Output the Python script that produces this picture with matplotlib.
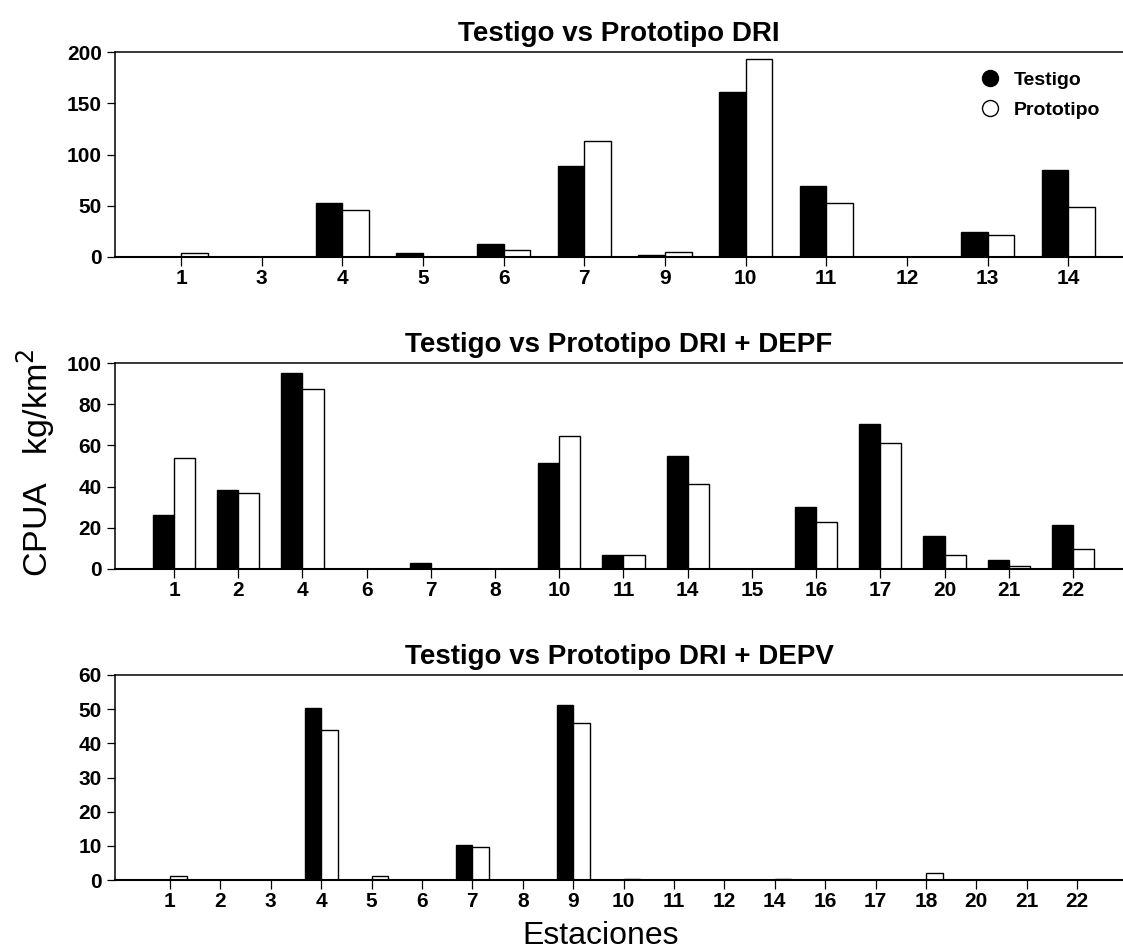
import numpy as np
import matplotlib
matplotlib.use("Agg")
import matplotlib.pyplot as plt
from matplotlib.lines import Line2D

plt.rcParams['font.family'] = ['Liberation Sans', 'DejaVu Sans']

# Panel 1: Testigo vs Prototipo DRI
est_dri = ["1", "3", "4", "5", "6", "7", "9", "10", "11", "12", "13", "14"]
testigo_dri = [0, 0, 53, 4.2, 12.4, 88.5, 1.6, 161, 69, 0, 24, 84.5]
prototipo_dri = [4.2, 0, 46, 0, 6.5, 113.5, 5.2, 193, 52.7, 0, 21, 48.8]

# Panel 2: Testigo vs Prototipo DRI + DEPF
est_depf = ["1", "2", "4", "6", "7", "8", "10", "11", "14", "15", "16", "17",
            "20", "21", "22"]
testigo_depf = [26, 38.3, 95, 0, 2.9, 0, 51.6, 6.7, 54.9, 0, 29.9, 70.5,
                15.9, 4.2, 21.3]
prototipo_depf = [54, 37, 87.5, 0, 0, 0, 64.4, 6.7, 41.4, 0, 22.6, 61.2,
                  6.7, 1.3, 9.9]

# Panel 3: Testigo vs Prototipo DRI + DEPV
est_depv = ["1", "2", "3", "4", "5", "6", "7", "8", "9", "10", "11", "12",
            "14", "16", "17", "18", "20", "21", "22"]
testigo_depv = [0, 0, 0, 50.3, 0, 0, 10.3, 0, 51.1, 0, 0, 0,
                0, 0, 0, 0, 0, 0, 0]
prototipo_depv = [1.1, 0, 0, 43.9, 1.1, 0, 9.8, 0, 46.0, 0.3, 0, 0,
                  0.3, 0, 0, 2.0, 0, 0, 0]

panels = [
    ("Testigo vs Prototipo DRI", est_dri, testigo_dri, prototipo_dri,
     200, [0, 50, 100, 150, 200], (-0.82, 11.68)),
    ("Testigo vs Prototipo DRI + DEPF", est_depf, testigo_depf, prototipo_depf,
     100, [0, 20, 40, 60, 80, 100], (-0.92, 14.78)),
    ("Testigo vs Prototipo DRI + DEPV", est_depv, testigo_depv, prototipo_depv,
     60, [0, 10, 20, 30, 40, 50, 60], (-1.09, 18.91)),
]

W, H = 1123, 951
fig = plt.figure(figsize=(W / 100, H / 100), dpi=100)

# axes rectangles in pixels: (top, bottom)
rects = [(52, 257), (363, 569), (675, 880)]
left_px = 115
bw = 0.33

axes = []
for (title, cats, t_vals, p_vals, ytop, yticks, xlim), (top, bot) in zip(panels, rects):
    ax = fig.add_axes([left_px / W, 1 - bot / H, (W - left_px) / W, (bot - top) / H])
    x = np.arange(len(cats))
    ax.bar(x - bw / 2, t_vals, width=bw, color="black", edgecolor="black",
           linewidth=1.0, zorder=2)
    ax.bar(x + bw / 2, p_vals, width=bw, color="white", edgecolor="black",
           linewidth=1.0, zorder=2)
    ax.set_xlim(*xlim)
    ax.set_ylim(0, ytop)
    ax.set_xticks(x)
    ax.set_xticklabels(cats)
    ax.set_yticks(yticks)
    ax.spines['right'].set_visible(False)
    for s in ('left', 'top'):
        ax.spines[s].set_linewidth(1.1)
    ax.spines['bottom'].set_linewidth(1.5)
    ax.tick_params(axis='x', direction='out', length=6.5, width=0.9, pad=2,
                   labelsize=15)
    ax.tick_params(axis='y', direction='out', length=6, width=0.9, pad=3.5,
                   labelsize=15)
    for lab in ax.get_xticklabels() + ax.get_yticklabels():
        lab.set_fontweight('bold')
    ax.set_title(title, fontsize=20, fontweight='bold', pad=8)
    axes.append(ax)

handles = [
    Line2D([], [], marker='o', linestyle='none', markersize=11.5,
           markerfacecolor='black', markeredgecolor='black'),
    Line2D([], [], marker='o', linestyle='none', markersize=11.5,
           markerfacecolor='white', markeredgecolor='black', markeredgewidth=1.0),
]
leg = axes[0].legend(handles, ["Testigo", "Prototipo"], loc='upper left',
                     bbox_to_anchor=((965 - left_px) / (W - left_px), 0.98),
                     frameon=False, handlelength=1.0, handletextpad=0.7,
                     labelspacing=0.6, borderaxespad=0.4,
                     prop={'size': 14, 'weight': 'bold'})

fig.text(36 / W, 1 - 463 / H, "CPUA   kg/km$^2$", rotation=90, fontsize=24.5,
         ha='center', va='center')
fig.text(601 / W, 1 - 936 / H, "Estaciones", fontsize=23, ha='center', va='center')

fig.savefig("out.png", dpi=100)
